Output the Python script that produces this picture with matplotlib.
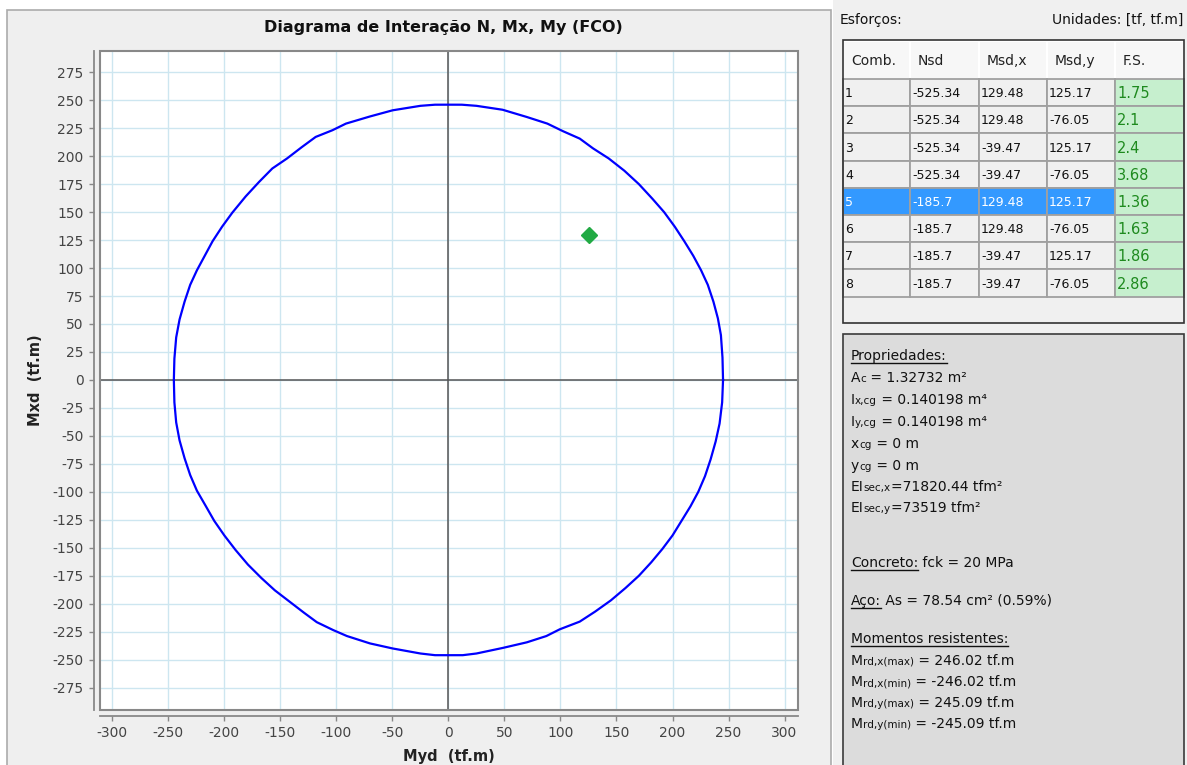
import matplotlib
matplotlib.use("Agg")
import matplotlib.pyplot as plt
from matplotlib.patches import Rectangle

W, H, DPI = 1187, 765, 100
plt.rcParams["font.family"] = ["DejaVu Sans"]
plt.rcParams["axes.unicode_minus"] = False

# Interaction curve N, Mx, My (FCO): Myd (horizontal) and Mxd (vertical), tf.m
myd_curve = [245.09, 244.6, 243.2, 240.5, 236.5, 231.5, 225.5, 218.5, 210.5, 202.0,
             192.5, 182.0, 170.0, 157.0, 143.0, 129.0, 117.2, 102.3, 88.3, 70.0,
             48.3, 25.0, 12.0, 0.0,
             -12.0, -25.0, -49.8, -70.0, -91.5, -103.5, -118.5, -131.0, -144.0, -157.2,
             -169.0, -181.0, -192.9, -202.0, -210.5, -217.5, -224.5, -230.5, -235.5, -240.0,
             -243.0, -244.6, -245.09,
             -244.6, -243.0, -240.0, -235.5, -230.5, -224.5, -217.0, -209.0, -200.0, -190.0,
             -179.0, -167.0, -155.0, -142.0, -129.0, -117.5, -103.0, -90.6, -70.0, -49.8,
             -25.0, -12.0, 0.0,
             12.8, 25.0, 48.6, 70.0, 87.4, 99.3, 117.2, 131.0, 145.0, 158.0,
             170.0, 181.0, 191.0, 200.0, 208.0, 216.0, 223.0, 229.0, 234.0, 238.5,
             242.0, 244.3, 245.09]
mxd_curve = [0.0, 20.0, 40.0, 55.0, 70.0, 85.0, 98.0, 111.0, 124.0, 137.0,
             150.0, 162.0, 175.0, 187.0, 198.0, 207.0, 215.7, 222.3, 229.1, 235.0,
             241.5, 245.0, 246.0, 246.02,
             246.0, 245.0, 241.0, 235.5, 229.1, 223.2, 217.2, 208.0, 198.0, 189.0,
             177.0, 164.0, 149.5, 137.0, 124.0, 111.0, 98.0, 85.0, 70.0, 54.0,
             38.0, 19.0, 0.0,
             -20.0, -38.0, -54.0, -70.0, -85.0, -99.0, -112.0, -126.0, -139.0, -152.0,
             -165.0, -177.0, -188.0, -198.0, -208.0, -216.5, -223.5, -228.9, -235.5, -240.0,
             -244.5, -246.0, -246.02,
             -246.0, -244.5, -239.5, -234.5, -228.9, -222.9, -216.0, -207.0, -197.0, -186.0,
             -175.0, -163.0, -151.0, -139.0, -126.0, -113.0, -100.0, -86.0, -71.0, -55.0,
             -39.0, -20.0, 0.0]

# Load combinations (tf, tf.m)
comb = ["1", "2", "3", "4", "5", "6", "7", "8"]
nsd = ["-525.34", "-525.34", "-525.34", "-525.34", "-185.7", "-185.7", "-185.7", "-185.7"]
msd_x = [129.48, 129.48, -39.47, -39.47, 129.48, 129.48, -39.47, -39.47]
msd_y = [125.17, -76.05, 125.17, -76.05, 125.17, -76.05, 125.17, -76.05]
fs = ["1.75", "2.1", "2.4", "3.68", "1.36", "1.63", "1.86", "2.86"]
selected = 4
headers = ["Comb.", "Nsd", "Msd,x", "Msd,y", "F.S."]

x_ticks = list(range(-300, 301, 50))
y_ticks = list(range(-275, 276, 25))

fig = plt.figure(figsize=(W / DPI, H / DPI), dpi=DPI)
fig.patch.set_facecolor("white")

# Background canvas in pixel coordinates
bg = fig.add_axes([0, 0, 1, 1], zorder=0)
bg.set_xlim(0, W)
bg.set_ylim(H, 0)
bg.axis("off")

# chart panel
bg.add_patch(Rectangle((7, 10), 824, 770, fc="#EFEFEF", ec="#ABABAB", lw=1.2))
# side panel
bg.add_patch(Rectangle((833, -5), 360, 780, fc="#F0F0F0", ec="none"))

bg.text(443, 27, "Diagrama de Interação N, Mx, My (FCO)", ha="center", va="center",
        fontsize=11.5, fontweight="bold", color="#111111")
bg.text(449, 756, "Myd  (tf.m)", ha="center", va="center", fontsize=10.5,
        fontweight="bold", color="#222222")
bg.text(35, 380, "Mxd  (tf.m)", ha="center", va="center", rotation=90, fontsize=10.5,
        fontweight="bold", color="#222222")

# Main interaction diagram
L, T, R, B = 100, 51, 798, 710
ax = fig.add_axes([L / W, 1 - B / H, (R - L) / W, (B - T) / H], zorder=2)
ax.set_facecolor("white")
ax.set_xlim(-311, 312)
ax.set_ylim(-295, 294)
ax.set_xticks(x_ticks)
ax.set_yticks(y_ticks)
ax.grid(True, color="#CDE6F0", lw=1.0, zorder=0)
ax.set_axisbelow(True)
for s in ["top", "right"]:
    ax.spines[s].set_visible(False)
for s in ["left", "bottom"]:
    ax.spines[s].set_position(("outward", 4.3))
    ax.spines[s].set_color("#888888")
    ax.spines[s].set_linewidth(1.3)
ax.add_patch(Rectangle((0, 0), 1, 1, transform=ax.transAxes, fill=False,
                       ec="#888888", lw=1.5, clip_on=False, zorder=5))
ax.tick_params(direction="out", length=3.5, width=1.0, color="#888888",
               labelcolor="#444444", labelsize=10, pad=4)
ax.axhline(0, color="#555555", lw=1.1, zorder=2)
ax.axvline(0, color="#555555", lw=1.1, zorder=2)
ax.plot(myd_curve, mxd_curve, color="#0000FF", lw=1.6, zorder=3)
ax.plot([msd_y[selected]], [msd_x[selected]], ls="none", marker="D", ms=8.5,
        color="#22AA44", mec="#22AA44", zorder=4)

# Side panel: load combinations table
bg.text(840, 20, "Esforços:", ha="left", va="center", fontsize=10, color="#111111")
bg.text(1183, 20, "Unidades: [tf, tf.m]", ha="right", va="center", fontsize=10,
        color="#111111")

cols = [843, 910, 979, 1047, 1115, 1184]
head_top, head_bot = 41, 79
row_h = 27.2
tbl_bot = 323
bg.add_patch(Rectangle((843, 40), 341, tbl_bot - 40, fc="#F0F0F0", ec="none"))
for i in range(5):
    bg.add_patch(Rectangle((cols[i], head_top), cols[i + 1] - cols[i], head_bot - head_top,
                           fc="#F7F7F7", ec="white", lw=1.5))
    bg.text(cols[i] + 8, (head_top + head_bot) / 2 + 1, headers[i], ha="left", va="center",
            fontsize=10, color="#222222")

for r in range(len(comb)):
    y0 = head_bot + r * row_h
    vals = [comb[r], nsd[r], f"{msd_x[r]:g}", f"{msd_y[r]:g}", fs[r]]
    for c in range(5):
        if c == 4:
            fc, tc = "#C6EFCE", "#1E8A1E"
        elif r == selected:
            fc, tc = "#3399FF", "white"
        else:
            fc, tc = "#F0F0F0", "#111111"
        bg.add_patch(Rectangle((cols[c], y0), cols[c + 1] - cols[c], row_h,
                               fc=fc, ec="#A0A0A0", lw=1.3))
        bg.text(cols[c] + 2, y0 + row_h / 2 + 1, vals[c], ha="left", va="center",
                fontsize=10.5 if c == 4 else 9, color=tc)
bg.add_patch(Rectangle((843, 40), 341, tbl_bot - 40, fill=False, ec="#333333", lw=1.2))

# Side panel: section properties
bg.add_patch(Rectangle((843, 334), 341, 440, fc="#DCDCDC", ec="#3A3A3A", lw=1.2))

renderer = fig.canvas.get_renderer()
BIG, SMALL = 10, 7.5


def rich(x, y, parts, color="#111111"):
    for txt, size, under in parts:
        t = bg.text(x, y, txt, ha="left", va="baseline", fontsize=size, color=color)
        w = t.get_window_extent(renderer=renderer).width
        if under:
            bg.plot([x, x + w], [y + 2.5, y + 2.5], color=color, lw=1.0)
        x += w


props = [
    (360, [("Propriedades:", BIG, True)]),
    (382, [("A", BIG, False), ("c", SMALL, False), (" = 1.32732 m²", BIG, False)]),
    (404, [("I", BIG, False), ("x,cg", SMALL, False), (" = 0.140198 m⁴", BIG, False)]),
    (426, [("I", BIG, False), ("y,cg", SMALL, False), (" = 0.140198 m⁴", BIG, False)]),
    (448, [("x", BIG, False), ("cg", SMALL, False), (" = 0 m", BIG, False)]),
    (470, [("y", BIG, False), ("cg", SMALL, False), (" = 0 m", BIG, False)]),
    (491, [("EI", BIG, False), ("sec,x", SMALL, False), ("=71820.44 tfm²", BIG, False)]),
    (512, [("EI", BIG, False), ("sec,y", SMALL, False), ("=73519 tfm²", BIG, False)]),
    (567, [("Concreto:", BIG, True), (" fck = 20 MPa", BIG, False)]),
    (605, [("Aço:", BIG, True), (" As = 78.54 cm² (0.59%)", BIG, False)]),
    (643, [("Momentos resistentes:", BIG, True)]),
    (665, [("M", BIG, False), ("rd,x(max)", SMALL, False), (" = 246.02 tf.m", BIG, False)]),
    (686, [("M", BIG, False), ("rd,x(min)", SMALL, False), (" = -246.02 tf.m", BIG, False)]),
    (707, [("M", BIG, False), ("rd,y(max)", SMALL, False), (" = 245.09 tf.m", BIG, False)]),
    (728, [("M", BIG, False), ("rd,y(min)", SMALL, False), (" = -245.09 tf.m", BIG, False)]),
]
for y, parts in props:
    rich(851, y, parts)

fig.savefig("out.png", dpi=DPI)
